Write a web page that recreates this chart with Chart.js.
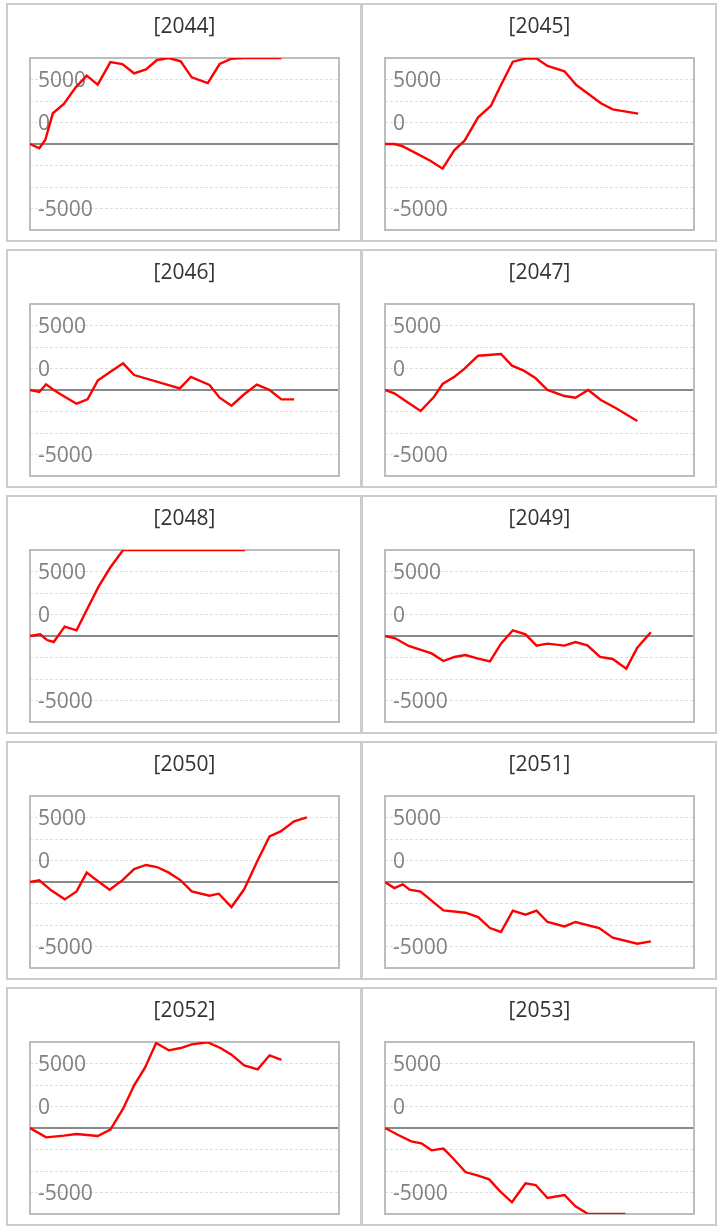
<!DOCTYPE html>
<html>
<head>
<meta charset="utf-8">
<script src="https://cdn.jsdelivr.net/npm/chart.js@4.4.1/dist/chart.umd.min.js"></script>
<style>
  body { margin: 0; background: #fff; }
  .panel { position: absolute; width: 352px; height: 235px; border: 2px solid #ccc; }
  .panel canvas { display: block; }
</style>
</head>
<body>
<script>
const years = ['2044', '2045', '2046', '2047', '2048', '2049', '2050', '2051', '2052', '2053'];

// [day, value] pairs
const s2044 = [[0, 0], [11, -500], [18, 470], [27, 3570], [40, 4650], [54, 6590], [67, 7950], [80, 6900], [95, 9530], [109, 9300], [123, 8220], [137, 8680], [150, 9770], [164, 10000], [178, 9610], [191, 7750], [210, 7090], [224, 9300], [238, 9920], [253, 10000], [297, 10000]];
const s2045 = [[0, 0], [11, 0], [20, -230], [37, -1090], [54, -1980], [68, -2870], [82, -700], [94, 390], [110, 3100], [125, 4420], [137, 6860], [151, 9570], [167, 9950], [179, 9950], [192, 9070], [212, 8450], [226, 6860], [242, 5700], [255, 4730], [269, 4030], [299, 3530]];
const s2046 = [[0, 0], [11, -230], [19, 660], [28, 0], [39, -660], [55, -1590], [68, -1090], [80, 1090], [95, 2130], [110, 3100], [123, 1740], [177, 190], [190, 1510], [212, 580], [224, -890], [238, -1820], [253, -500], [268, 620], [283, 0], [297, -1090], [312, -1090]];
const s2047 = [[0, 0], [11, -390], [24, -1240], [42, -2440], [58, -780], [68, 700], [82, 1550], [93, 2400], [110, 3990], [137, 4190], [150, 2830], [164, 2250], [178, 1360], [192, 0], [212, -700], [225, -890], [240, 0], [255, -1160], [273, -2130], [298, -3600]];
const s2048 = [[0, 0], [12, 190], [20, -470], [28, -700], [41, 1090], [55, 660], [67, 3020], [81, 5740], [95, 7990], [110, 10000], [254, 10000]];
const s2049 = [[0, 0], [12, -270], [28, -1160], [55, -2020], [69, -2910], [82, -2440], [95, -2210], [109, -2600], [124, -2950], [137, -890], [151, 660], [166, 190], [179, -1120], [192, -890], [212, -1120], [225, -700], [239, -1090], [254, -2440], [269, -2670], [285, -3800], [298, -1360], [314, 430]];
const s2050 = [[0, 0], [11, 190], [25, -970], [41, -2020], [55, -1090], [67, 1090], [80, 120], [94, -890], [109, 190], [123, 1510], [137, 1980], [150, 1740], [164, 1090], [178, 190], [191, -1090], [212, -1590], [223, -1360], [238, -2910], [253, -850], [269, 2520], [283, 5310], [296, 5890], [312, 7050], [327, 7520]];
const s2051 = [[0, 0], [11, -700], [21, -270], [29, -890], [42, -1120], [69, -3300], [95, -3570], [110, -4070], [124, -5350], [137, -5810], [151, -3330], [166, -3800], [179, -3330], [192, -4650], [212, -5160], [225, -4650], [253, -5350], [269, -6470], [298, -7170], [314, -6900]];
const s2052 = [[0, 0], [19, -1090], [40, -890], [55, -700], [80, -930], [95, -190], [110, 2250], [123, 4960], [136, 7050], [149, 9880], [164, 9030], [178, 9300], [191, 9730], [210, 9960], [225, 9300], [238, 8530], [253, 7290], [269, 6820], [283, 8450], [297, 7910]];
const s2053 = [[0, 0], [15, -780], [31, -1550], [43, -1780], [55, -2600], [69, -2400], [80, -3490], [95, -5120], [109, -5500], [123, -5970], [136, -7360], [150, -8640], [166, -6430], [178, -6630], [192, -8140], [212, -7790], [225, -9110], [238, -9880], [240, -10000], [284, -10000]];

const series = [s2044, s2045, s2046, s2047, s2048, s2049, s2050, s2051, s2052, s2053];

// the labels sit on these gridlines in the original
const tickValues = [7500, 2500, -7500];
const tickLabels = ['5000', '0', '-5000'];

Chart.defaults.font.family = "'Open Sans', sans-serif";

// gray frame round the plot area
const frame = {
    id: 'frame',
    beforeDatasetsDraw(chart) {
        const { ctx, chartArea: a } = chart;
        ctx.save();
        ctx.strokeStyle = '#bdbdbd';
        ctx.lineWidth = 2;
        ctx.strokeRect(a.left, a.top, a.right - a.left, a.bottom - a.top);
        ctx.restore();
    }
};

years.forEach((year, i) => {
    const col = i % 2;
    const row = Math.floor(i / 2);
    const div = document.createElement('div');
    div.className = 'panel';
    div.style.left = (6 + col * 355) + 'px';
    div.style.top = (3 + row * 246) + 'px';
    const canvas = document.createElement('canvas');
    canvas.width = 352;
    canvas.height = 235;
    div.appendChild(canvas);
    document.body.appendChild(div);

    new Chart(canvas, {
        type: 'line',
        data: {
            datasets: [{
                data: series[i].map(([x, y]) => ({ x, y })),
                borderColor: '#ff0000',
                borderWidth: 2.4,
                pointRadius: 0,
                tension: 0,
                fill: false,
                clip: 0
            }]
        },
        options: {
            responsive: false,
            animation: false,
            layout: { padding: { left: 22, right: 21, top: 0, bottom: 10 } },
            plugins: {
                legend: { display: false },
                tooltip: { enabled: false },
                title: {
                    display: true,
                    text: '[' + year + ']',
                    color: '#333',
                    font: { size: 21, weight: 'normal', lineHeight: 1.15 },
                    padding: { top: 10, bottom: 18.85 }
                }
            },
            scales: {
                x: { type: 'linear', display: false, min: 0, max: 365 },
                y: {
                    min: -10000,
                    max: 10000,
                    afterFit: (scale) => {
                        scale.width = 0;
                        scale.paddingTop = 0;
                        scale.paddingBottom = 0;
                    },
                    border: { display: false, dash: (c) => c.tick.value === 0 ? [] : [3, 2] },
                    grid: {
                        drawTicks: false,
                        color: (c) => c.tick.value === 0 ? '#8a8a8a' : '#dedede',
                        lineWidth: (c) => c.tick.value === 0 ? 2 : 1
                    },
                    ticks: {
                        stepSize: 2500,
                        autoSkip: false,
                        mirror: true,
                        padding: 8,
                        labelOffset: 2,
                        color: '#808080',
                        font: { size: 21 },
                        callback: (v) => {
                            const k = tickValues.indexOf(v);
                            return k < 0 ? '' : tickLabels[k];
                        }
                    }
                }
            }
        },
        plugins: [frame]
    });
});
</script>
</body>
</html>
